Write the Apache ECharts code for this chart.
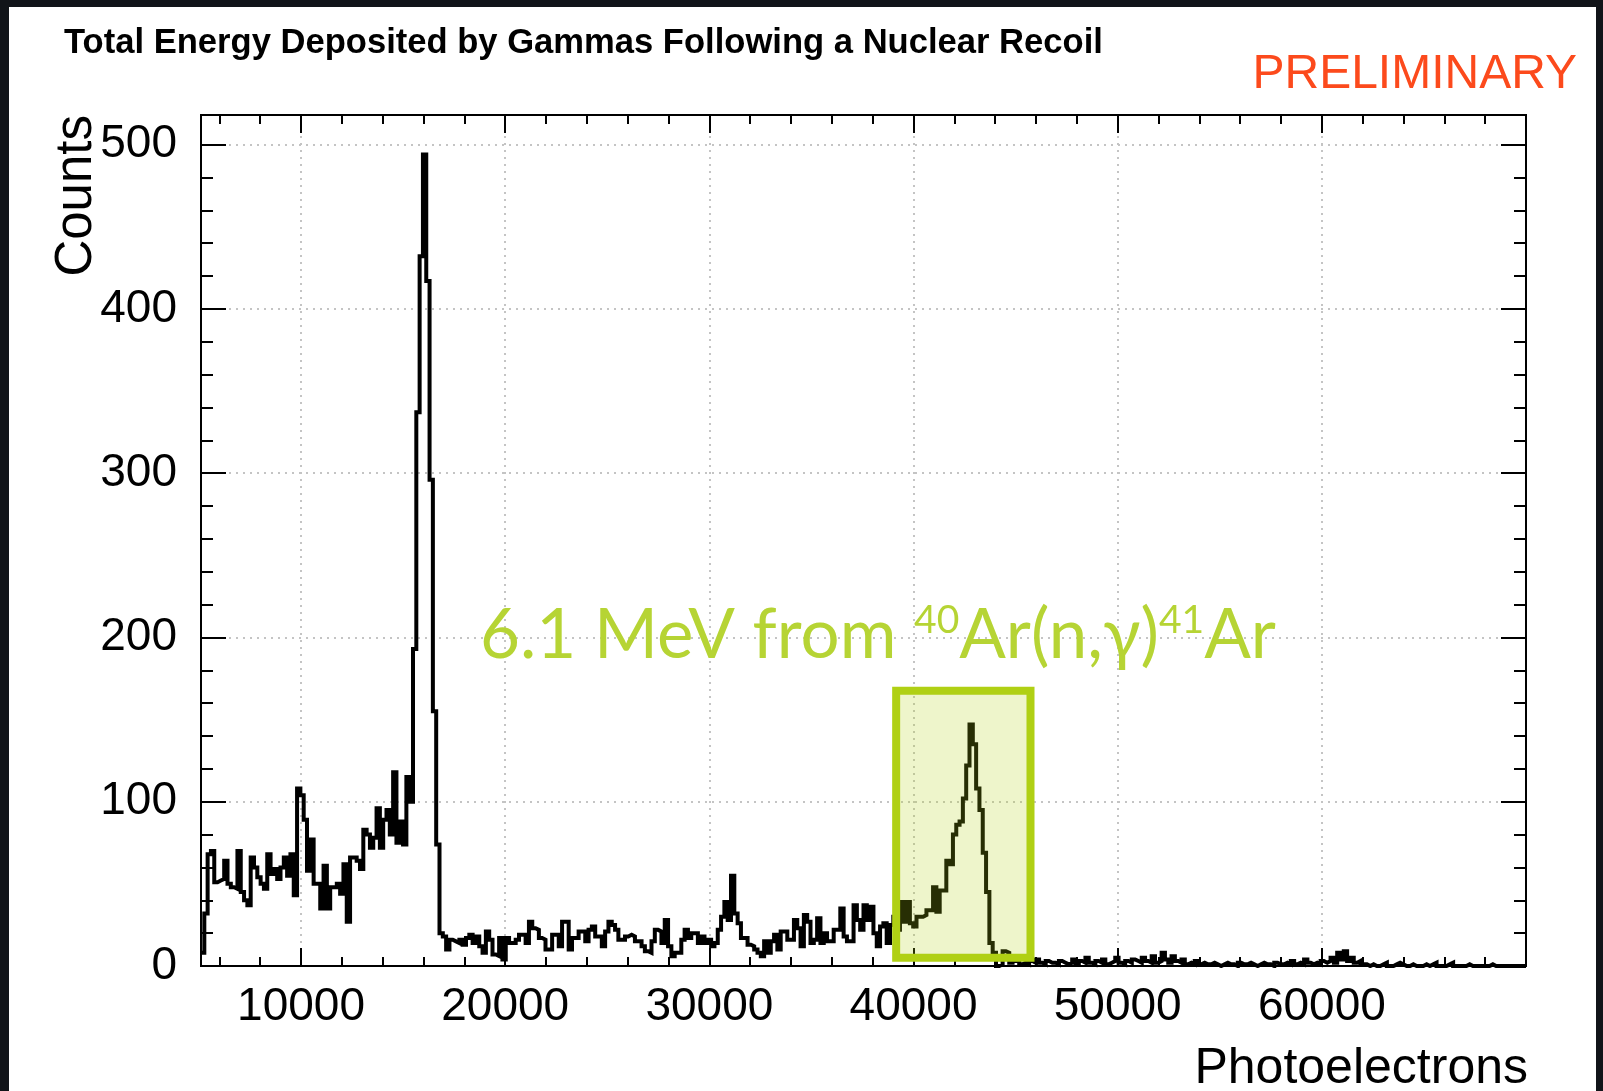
<!DOCTYPE html>
<html><head><meta charset="utf-8">
<script src="https://cdn.jsdelivr.net/npm/echarts@6/dist/echarts.min.js"></script>
<style>
html,body{margin:0;padding:0;width:1603px;height:1091px;overflow:hidden;background:#111419;}
#panel{position:absolute;left:9px;top:7px;width:1587px;height:1084px;background:#fff;}
#chart{position:absolute;left:0;top:0;width:1603px;height:1091px;}
</style></head>
<body><div id="panel"></div><div id="chart"></div>
<script>
// ---------------- data ----------------
const binLow = 5100;
const binHigh = 70000;
const binCounts = [
  8, 32, 68, 70, 51, 52, 53, 64, 50, 48, 47, 70, 45, 40, 37, 66, 60, 54, 50, 47,
  68, 56, 59, 53, 60, 66, 55, 68, 43, 108, 104, 89, 58, 77, 50, 50, 35, 61, 35, 48,
  48, 50, 44, 62, 27, 66, 66, 64, 59, 83, 80, 72, 78, 96, 72, 89, 95, 80, 118, 75,
  88, 74, 115, 100, 193, 337, 432, 494, 417, 296, 155, 74, 20, 18, 10, 16, 15, 14, 16, 13,
  17, 19, 14, 18, 12, 8, 21, 16, 7, 6, 17, 4, 17, 14, 14, 16, 19, 19, 14, 27,
  23, 22, 17, 16, 10, 10, 19, 19, 12, 27, 27, 10, 17, 17, 21, 21, 15, 22, 24, 18,
  18, 12, 21, 27, 25, 22, 16, 16, 18, 19, 18, 15, 15, 12, 9, 8, 15, 22, 21, 14,
  28, 12, 6, 8, 8, 16, 22, 17, 20, 20, 14, 18, 14, 16, 12, 14, 22, 30, 39, 28,
  55, 32, 26, 17, 17, 13, 12, 10, 8, 6, 15, 8, 15, 19, 10, 21, 21, 16, 16, 28,
  23, 12, 31, 27, 14, 16, 29, 14, 20, 15, 15, 22, 22, 35, 18, 15, 15, 37, 28, 22,
  37, 28, 36, 20, 12, 24, 26, 14, 25, 30, 22, 39, 27, 39, 26, 24, 30, 30, 31, 34,
  34, 48, 33, 46, 46, 64, 62, 80, 86, 88, 102, 122, 147, 135, 108, 95, 69, 45, 14, 8,
  0, 1, 9, 8, 2, 5, 3, 1, 2, 1, 3, 2, 4, 2, 1, 3, 2, 2, 1, 3,
  2, 1, 2, 4, 1, 3, 2, 5, 2, 1, 3, 2, 4, 1, 2, 3, 5, 2, 1, 3,
  2, 4, 3, 2, 5, 3, 2, 6, 2, 3, 8, 4, 2, 6, 3, 2, 4, 1, 2, 1,
  3, 1, 2, 1, 1, 2, 1, 0, 1, 2, 1, 1, 0, 2, 1, 1, 2, 1, 0, 1,
  2, 1, 1, 0, 2, 1, 1, 2, 1, 3, 1, 2, 1, 4, 2, 1, 2, 1, 3, 2,
  3, 5, 2, 8, 4, 9, 3, 5, 2, 3, 1, 1, 0, 1, 0, 0, 1, 2, 0, 0,
  1, 2, 1, 0, 0, 1, 0, 0, 0, 1, 0, 1, 2, 0, 0, 0, 1, 2, 0, 0,
  0, 0, 1, 0, 0, 0, 0, 0, 0, 1, 0, 0, 0, 0, 0, 0, 0, 0, 0, 0
];
const xMajorTicks = [10000, 20000, 30000, 40000, 50000, 60000];
const xMinorTicks = [6000, 8000, 10000, 12000, 14000, 16000, 18000, 20000, 22000, 24000, 26000,
  28000, 30000, 32000, 34000, 36000, 38000, 40000, 42000, 44000, 46000, 48000, 50000, 52000,
  54000, 56000, 58000, 60000, 62000, 64000, 66000, 68000];
const yMax = 518;
const yMajorTicks = [0, 100, 200, 300, 400, 500];
const yMinorTicks = [20, 40, 60, 80, 100, 120, 140, 160, 180, 200, 220, 240, 260, 280, 300,
  320, 340, 360, 380, 400, 420, 440, 460, 480, 500];
const titleText = 'Total Energy Deposited by Gammas Following a Nuclear Recoil';
const stampText = 'PRELIMINARY';
const xTitle = 'Photoelectrons';
const yTitle = 'Counts';
const boxX = [39150, 45730];
const boxY = [5, 167.5];

// ---------------- build ----------------
const binWidth = (binHigh - binLow) / binCounts.length;
const steps = binCounts.map((c, i) => [binLow + i * binWidth, c]);
steps.push([binHigh, binCounts[binCounts.length - 1]]);

const black = '#000';
const labelFont = { fontFamily: 'Liberation Sans', fontSize: 46, color: black, formatter: v => String(v) };
const gridLine = { show: true, lineStyle: { color: '#c4c4c4', width: 2, type: [2, 5] } };

function xAx(pos, ticks, len, withLabels, withGrid) {
  return {
    type: 'value', min: binLow, max: binHigh, position: pos,
    axisLine: { show: true, onZero: false, lineStyle: { color: black, width: 2 } },
    axisTick: { show: true, inside: true, length: len, customValues: ticks, lineStyle: { color: black, width: 2 } },
    axisLabel: withLabels ? Object.assign({ show: true, customValues: ticks, margin: 18 }, labelFont) : { show: false },
    splitLine: withGrid ? gridLine : { show: false }
  };
}
function yAx(pos, ticks, len, withLabels, withGrid) {
  return {
    type: 'value', min: 0, max: yMax, position: pos,
    axisLine: { show: true, onZero: false, lineStyle: { color: black, width: 2 } },
    axisTick: { show: true, inside: true, length: len, customValues: ticks, lineStyle: { color: black, width: 2 } },
    axisLabel: withLabels ? Object.assign({ show: true, customValues: ticks, margin: 24, lineHeight: 50, padding: [6, 0, 0, 0] }, labelFont) : { show: false },
    splitLine: withGrid ? gridLine : { show: false }
  };
}

const chart = echarts.init(document.getElementById('chart'), null, { renderer: 'canvas' });
chart.setOption({
  animation: false,
  backgroundColor: 'transparent',
  grid: { left: 201, top: 115, width: 1325, height: 851, show: true, borderColor: black, borderWidth: 2, containLabel: false },
  xAxis: [
    xAx('bottom', xMajorTicks, 18, true, true),
    xAx('bottom', xMinorTicks, 9, false, false),
    xAx('top', xMajorTicks, 18, false, false),
    xAx('top', xMinorTicks, 9, false, false)
  ],
  yAxis: [
    yAx('left', yMajorTicks, 25, true, true),
    yAx('left', yMinorTicks, 12, false, false),
    yAx('right', yMajorTicks, 25, false, false),
    yAx('right', yMinorTicks, 12, false, false)
  ],
  series: [{
    type: 'line', step: 'end', data: steps, xAxisIndex: 0, yAxisIndex: 0,
    showSymbol: false, symbol: 'none', silent: true, z: 3,
    lineStyle: { color: black, width: 4, join: 'miter' }
  }]
});

const p0 = chart.convertToPixel({ xAxisIndex: 0, yAxisIndex: 0 }, [boxX[0], boxY[1]]);
const p1 = chart.convertToPixel({ xAxisIndex: 0, yAxisIndex: 0 }, [boxX[1], boxY[0]]);

chart.setOption({
  graphic: { elements: [
    { type: 'text', x: 64, y: 43, z: 100,
      style: { text: titleText, fontFamily: 'Liberation Sans', fontWeight: 'bold', fontSize: 34.6, fill: black, align: 'left', verticalAlign: 'middle' } },
    { type: 'text', x: 1577, y: 75, z: 100,
      style: { text: stampText, fontFamily: 'Liberation Sans', fontSize: 48, fill: '#fc4a1c', align: 'right', verticalAlign: 'middle' } },
    { type: 'text', x: 77, y: 115, rotation: Math.PI / 2, z: 100,
      style: { text: yTitle, fontFamily: 'Liberation Sans', fontSize: 51, fill: black, align: 'right', verticalAlign: 'middle' } },
    { type: 'text', x: 1528, y: 1069, z: 100,
      style: { text: xTitle, fontFamily: 'Liberation Sans', fontSize: 50, fill: black, align: 'right', verticalAlign: 'middle' } },
    { type: 'rect', z: 100,
      shape: { x: p0[0], y: p0[1], width: p1[0] - p0[0], height: p1[1] - p0[1] },
      style: { fill: 'rgba(176,209,20,0.22)', stroke: '#b0d014', lineWidth: 8 } },
    { type: 'text', x: 480, y: 636, z: 100,
      style: {
        text: '{a|6.1 MeV from }{s|40}{a|Ar(n,γ)}{s|41}{a|Ar}',
        align: 'left', verticalAlign: 'middle',
        rich: {
          a: { fontFamily: 'Lato', fontSize: 69, lineHeight: 70, fill: '#b6d434', verticalAlign: 'middle' },
          s: { fontFamily: 'Lato', fontSize: 39, lineHeight: 40, fill: '#b6d434', verticalAlign: 'top' }
        }
      } }
  ] }
});
</script>
</body></html>
